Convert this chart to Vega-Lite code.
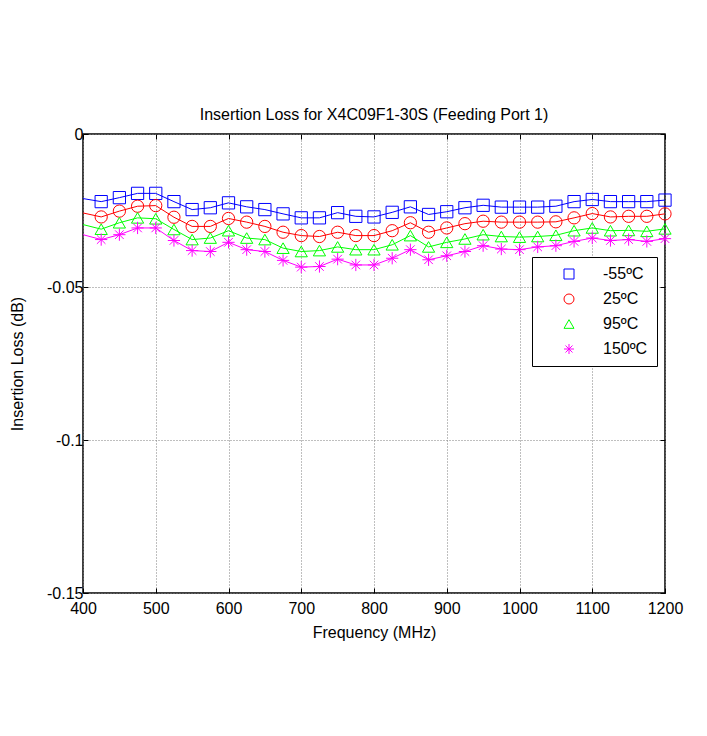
{
  "$schema": "https://vega.github.io/schema/vega-lite/v6.json",
  "width": 582,
  "height": 459,
  "autosize": "none",
  "padding": {"left": 83, "top": 134, "right": 42, "bottom": 143},
  "background": "white",
  "title": {"text": "Insertion Loss for X4C09F1-30S (Feeding Port 1)", "fontSize": 16, "fontWeight": "normal", "font": "Liberation Sans", "color": "black", "offset": 3},
  "config": {
    "font": "Liberation Sans",
    "view": {"stroke": "black", "strokeWidth": 1.5},
    "axis": {"labelFont": "Liberation Sans", "labelFontSize": 16, "labelColor": "black", "labelFlush": false, "titleFont": "Liberation Sans", "titleFontSize": 16, "titleFontWeight": "normal", "titleColor": "black", "domain": false, "tickColor": "black", "tickSize": -5, "gridColor": "#7f7f7f", "gridDash": [1, 2], "gridOpacity": 1, "gridWidth": 1},
    "legend": {"orient": "none", "legendX": 449, "legendY": 123, "strokeColor": "black", "fillColor": "white", "padding": 9, "symbolOffset": 20, "labelOffset": 26, "rowPadding": 9, "labelFont": "Liberation Sans", "labelFontSize": 16, "labelColor": "black", "symbolSize": 100, "symbolStrokeWidth": 1}
  },
  "data": {"values": [
    {"f":400,"t":"-55ºC","v":-0.0211},{"f":425,"t":"-55ºC","v":-0.0221},{"f":450,"t":"-55ºC","v":-0.0208},{"f":475,"t":"-55ºC","v":-0.0194},{"f":500,"t":"-55ºC","v":-0.0194},{"f":525,"t":"-55ºC","v":-0.0221},{"f":550,"t":"-55ºC","v":-0.0247},{"f":575,"t":"-55ºC","v":-0.0241},{"f":600,"t":"-55ºC","v":-0.0225},{"f":625,"t":"-55ºC","v":-0.0238},{"f":650,"t":"-55ºC","v":-0.0247},{"f":675,"t":"-55ºC","v":-0.0261},{"f":700,"t":"-55ºC","v":-0.0274},{"f":725,"t":"-55ºC","v":-0.0274},{"f":750,"t":"-55ºC","v":-0.0257},{"f":775,"t":"-55ºC","v":-0.0269},{"f":800,"t":"-55ºC","v":-0.0271},{"f":825,"t":"-55ºC","v":-0.0256},{"f":850,"t":"-55ºC","v":-0.0238},{"f":875,"t":"-55ºC","v":-0.0263},{"f":900,"t":"-55ºC","v":-0.0254},{"f":925,"t":"-55ºC","v":-0.0241},{"f":950,"t":"-55ºC","v":-0.0233},{"f":975,"t":"-55ºC","v":-0.0239},{"f":1000,"t":"-55ºC","v":-0.0239},{"f":1025,"t":"-55ºC","v":-0.0239},{"f":1050,"t":"-55ºC","v":-0.0236},{"f":1075,"t":"-55ºC","v":-0.0221},{"f":1100,"t":"-55ºC","v":-0.0214},{"f":1125,"t":"-55ºC","v":-0.0221},{"f":1150,"t":"-55ºC","v":-0.0221},{"f":1175,"t":"-55ºC","v":-0.0221},{"f":1200,"t":"-55ºC","v":-0.0216},
    {"f":400,"t":"25ºC","v":-0.0258},{"f":425,"t":"25ºC","v":-0.0271},{"f":450,"t":"25ºC","v":-0.0252},{"f":475,"t":"25ºC","v":-0.0236},{"f":500,"t":"25ºC","v":-0.0234},{"f":525,"t":"25ºC","v":-0.0272},{"f":550,"t":"25ºC","v":-0.0302},{"f":575,"t":"25ºC","v":-0.0302},{"f":600,"t":"25ºC","v":-0.0276},{"f":625,"t":"25ºC","v":-0.0288},{"f":650,"t":"25ºC","v":-0.0302},{"f":675,"t":"25ºC","v":-0.0321},{"f":700,"t":"25ºC","v":-0.0332},{"f":725,"t":"25ºC","v":-0.0335},{"f":750,"t":"25ºC","v":-0.0321},{"f":775,"t":"25ºC","v":-0.0332},{"f":800,"t":"25ºC","v":-0.0332},{"f":825,"t":"25ºC","v":-0.0316},{"f":850,"t":"25ºC","v":-0.0290},{"f":875,"t":"25ºC","v":-0.0321},{"f":900,"t":"25ºC","v":-0.0307},{"f":925,"t":"25ºC","v":-0.0293},{"f":950,"t":"25ºC","v":-0.0285},{"f":975,"t":"25ºC","v":-0.0288},{"f":1000,"t":"25ºC","v":-0.0288},{"f":1025,"t":"25ºC","v":-0.0288},{"f":1050,"t":"25ºC","v":-0.0287},{"f":1075,"t":"25ºC","v":-0.0274},{"f":1100,"t":"25ºC","v":-0.0260},{"f":1125,"t":"25ºC","v":-0.0271},{"f":1150,"t":"25ºC","v":-0.0269},{"f":1175,"t":"25ºC","v":-0.0269},{"f":1200,"t":"25ºC","v":-0.0261},
    {"f":400,"t":"95ºC","v":-0.0296},{"f":425,"t":"95ºC","v":-0.0311},{"f":450,"t":"95ºC","v":-0.0290},{"f":475,"t":"95ºC","v":-0.0274},{"f":500,"t":"95ºC","v":-0.0277},{"f":525,"t":"95ºC","v":-0.0312},{"f":550,"t":"95ºC","v":-0.0345},{"f":575,"t":"95ºC","v":-0.0340},{"f":600,"t":"95ºC","v":-0.0316},{"f":625,"t":"95ºC","v":-0.0340},{"f":650,"t":"95ºC","v":-0.0345},{"f":675,"t":"95ºC","v":-0.0373},{"f":700,"t":"95ºC","v":-0.0384},{"f":725,"t":"95ºC","v":-0.0381},{"f":750,"t":"95ºC","v":-0.0369},{"f":775,"t":"95ºC","v":-0.0378},{"f":800,"t":"95ºC","v":-0.0378},{"f":825,"t":"95ºC","v":-0.0362},{"f":850,"t":"95ºC","v":-0.0332},{"f":875,"t":"95ºC","v":-0.0369},{"f":900,"t":"95ºC","v":-0.0354},{"f":925,"t":"95ºC","v":-0.0343},{"f":950,"t":"95ºC","v":-0.0329},{"f":975,"t":"95ºC","v":-0.0335},{"f":1000,"t":"95ºC","v":-0.0337},{"f":1025,"t":"95ºC","v":-0.0335},{"f":1050,"t":"95ºC","v":-0.0331},{"f":1075,"t":"95ºC","v":-0.0316},{"f":1100,"t":"95ºC","v":-0.0307},{"f":1125,"t":"95ºC","v":-0.0316},{"f":1150,"t":"95ºC","v":-0.0315},{"f":1175,"t":"95ºC","v":-0.0318},{"f":1200,"t":"95ºC","v":-0.0310},
    {"f":400,"t":"150ºC","v":-0.0329},{"f":425,"t":"150ºC","v":-0.0345},{"f":450,"t":"150ºC","v":-0.0329},{"f":475,"t":"150ºC","v":-0.0307},{"f":500,"t":"150ºC","v":-0.0307},{"f":525,"t":"150ºC","v":-0.0348},{"f":550,"t":"150ºC","v":-0.0381},{"f":575,"t":"150ºC","v":-0.0384},{"f":600,"t":"150ºC","v":-0.0354},{"f":625,"t":"150ºC","v":-0.0378},{"f":650,"t":"150ºC","v":-0.0384},{"f":675,"t":"150ºC","v":-0.0413},{"f":700,"t":"150ºC","v":-0.0435},{"f":725,"t":"150ºC","v":-0.0433},{"f":750,"t":"150ºC","v":-0.0409},{"f":775,"t":"150ºC","v":-0.0428},{"f":800,"t":"150ºC","v":-0.0428},{"f":825,"t":"150ºC","v":-0.0406},{"f":850,"t":"150ºC","v":-0.0378},{"f":875,"t":"150ºC","v":-0.0411},{"f":900,"t":"150ºC","v":-0.0398},{"f":925,"t":"150ºC","v":-0.0384},{"f":950,"t":"150ºC","v":-0.0365},{"f":975,"t":"150ºC","v":-0.0376},{"f":1000,"t":"150ºC","v":-0.0378},{"f":1025,"t":"150ºC","v":-0.0369},{"f":1050,"t":"150ºC","v":-0.0365},{"f":1075,"t":"150ºC","v":-0.0351},{"f":1100,"t":"150ºC","v":-0.0340},{"f":1125,"t":"150ºC","v":-0.0348},{"f":1150,"t":"150ºC","v":-0.0345},{"f":1175,"t":"150ºC","v":-0.0351},{"f":1200,"t":"150ºC","v":-0.0342}
  ]},
  "resolve": {"axis": {"x": "independent", "y": "independent"}},
  "layer": [
    {
      "mark": {"type": "line", "strokeWidth": 1},
      "encoding": {
        "x": {"field": "f", "type": "quantitative", "scale": {"domain": [400, 1200], "nice": false, "zero": false}, "axis": {"values": [400,500,600,700,800,900,1000,1100,1200], "labelExpr": "'' + datum.value", "title": "Frequency (MHz)", "labelPadding": 12, "titlePadding": 8, "grid": true}},
        "y": {"field": "v", "type": "quantitative", "scale": {"domain": [-0.15, 0], "nice": false, "zero": false}, "axis": {"values": [-0.15,-0.1,-0.05,0], "labelExpr": "'' + datum.value", "title": "Insertion Loss (dB)", "labelPadding": 5, "titlePadding": 21, "grid": true}},
        "color": {"field": "t", "type": "nominal", "scale": {"domain": ["-55ºC","25ºC","95ºC","150ºC"], "range": ["#0000ff","#ff0000","#00ff00","#ff00ff"]}, "legend": {"title": null, "encode": {"symbols": {"update": {"stroke": {"scale": "color", "field": "value"}, "fill": {"value": "transparent"}}}}}}
      }
    },
    {
      "transform": [{"filter": "datum.f >= 425"}],
      "mark": {"type": "point", "filled": false, "size": 150, "strokeWidth": 1, "opacity": 1},
      "encoding": {
        "x": {"field": "f", "type": "quantitative", "scale": {"domain": [400, 1200], "nice": false, "zero": false}, "axis": {"orient": "top", "values": [400,500,600,700,800,900,1000,1100,1200], "labels": false, "title": null, "grid": false}},
        "y": {"field": "v", "type": "quantitative", "scale": {"domain": [-0.15, 0], "nice": false, "zero": false}, "axis": {"orient": "right", "values": [-0.15,-0.1,-0.05,0], "labels": false, "title": null, "grid": false}},
        "color": {"field": "t", "type": "nominal", "scale": {"domain": ["-55ºC","25ºC","95ºC","150ºC"], "range": ["#0000ff","#ff0000","#00ff00","#ff00ff"]}, "legend": {"title": null, "encode": {"symbols": {"update": {"stroke": {"scale": "color", "field": "value"}, "fill": {"value": "transparent"}}}}}},
        "shape": {"field": "t", "type": "nominal", "scale": {"domain": ["-55ºC","25ºC","95ºC","150ºC"], "range": ["square", "circle", "triangle-up", "M-1,0L1,0M0,-1L0,1M-0.7,-0.7L0.7,0.7M-0.7,0.7L0.7,-0.7"]}, "legend": {"title": null, "encode": {"symbols": {"update": {"stroke": {"scale": "color", "field": "value"}, "fill": {"value": "transparent"}}}}}}
      }
    }
  ]
}
